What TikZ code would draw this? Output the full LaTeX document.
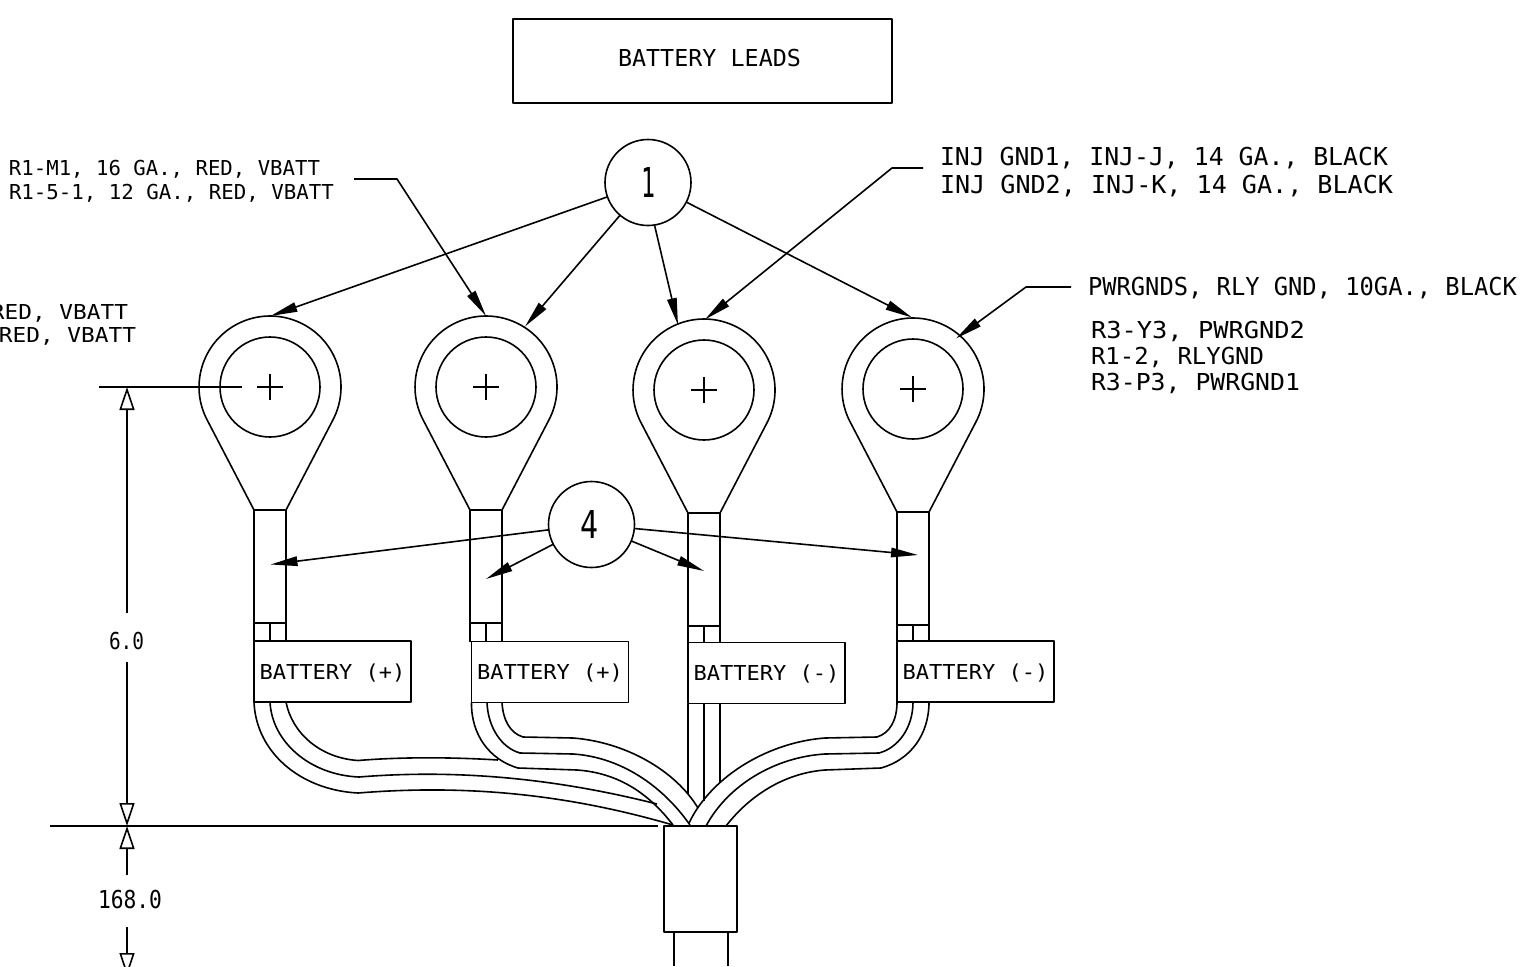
\documentclass[tikz,border=0pt]{standalone}
\usepackage{fontspec}
\usepackage{graphicx}
\usetikzlibrary{arrows.meta,calc}
\newfontfamily\cadf{DejaVu Sans Mono}
\newdimen\cadwd
\newdimen\cadht
\newcommand\cad[3]{\begingroup\sbox0{\cadf #3}\sbox2{\cadf H}\cadwd=\wd0 \cadht=\ht2
\pgfmathsetmacro\cadsx{#1/\cadwd}\pgfmathsetmacro\cadsy{#2/\cadht}%
\raisebox{0pt}[#2pt][0pt]{\scalebox{\cadsx}[\cadsy]{\usebox0}}\endgroup}
\tikzset{
  ln/.style={line width=1.6pt,line join=round},
  txt/.style={inner sep=0pt,outer sep=0pt,anchor=base west},
  txtr/.style={inner sep=0pt,outer sep=0pt,anchor=base east},
  balloon/.style={ln,draw,circle,minimum size=86pt,inner sep=0pt,outer sep=0pt},
  boxn/.style={ln,draw,rectangle,inner sep=0pt,outer sep=0pt},
  label box/.style={boxn,minimum width=157pt,minimum height=61pt},
  leader/.style={ln,-{Triangle[length=27pt,width=9.5pt]}},
  dimtip/.style={ln,-{Triangle[open,length=23pt,width=15pt,line width=1.6pt]}},
}
\begin{document}
\begin{tikzpicture}[x=1pt,y=-1pt]
\useasboundingbox (0,0) rectangle (1522,966);
% title
\node[boxn,minimum width=379pt,minimum height=84pt] (title) at (702.5,61) {};
\node[txt] (titlet) at (618,66.5) {\cad{183}{17}{BATTERY LEADS}};
% balloons
\node[balloon] (b1) at (648,182.5) {\cad{14}{30}{1}};
\node[balloon] (b4) at (591.5,524.5) {\cad{18}{28}{4}\kern4pt};
% lugs
\foreach \n/\cx/\cy in {1/270/387,2/486/387,3/704/390,4/913/389}{
  \coordinate (c\n) at (\cx,\cy);
  \node[ln,draw,circle,minimum size=100pt,inner sep=0pt,outer sep=0pt] (hole\n) at (c\n) {};
  \draw[ln] ($(c\n)+(-16,123)$) -- ($(c\n)+(-62.3,34)$)
     arc[start angle=208.6,end angle=-28.6,radius=71pt] -- ($(c\n)+(16,123)$);
  \node[boxn,minimum width=32pt,minimum height=113pt] (barrel\n) at ($(c\n)+(0,179.5)$) {};
  \draw[ln] ($(c\n)+(-13,0)$) -- ($(c\n)+(13,0)$);
  \draw[ln] ($(c\n)+(0,-13)$) -- ($(c\n)+(0,13)$);
}
% label boxes
\node[label box] (bx1) at (332.5,671.5) {\cad{146}{15}{BATTERY (+)}};
\node[label box] (bx2) at (550,672) {\cad{146}{15}{BATTERY (+)}};
\node[label box] (bx3) at (766.5,673) {\cad{146}{15}{BATTERY (-)}};
\node[label box] (bx4) at (975.5,671.5) {\cad{146}{15}{BATTERY (-)}};
% stubs between barrel and label box
\foreach \n in {1,2,3,4}{
  \draw[ln] (barrel\n.south west) -- (barrel\n.south west |- bx\n.north);
  \draw[ln] (barrel\n.south) -- (barrel\n.south |- bx\n.north);
  \draw[ln] (barrel\n.south east) -- (barrel\n.south east |- bx\n.north);
}
% sleeve
\node[boxn,minimum width=73pt,minimum height=106pt] (sl) at (700.5,879) {};
\coordinate (cabL) at (674,966);
\coordinate (cabR) at (728,966);
\draw[ln] (cabL |- sl.south) -- (cabL);
\draw[ln] (cabR |- sl.south) -- (cabR);
% wires, box 1
\draw[ln] (bx1.south west) .. controls (256,752) and (300,790) .. (358,793) .. controls (470,784) and (570,795) .. (673,825);
\draw[ln] (270,702) .. controls (272,742) and (310,775) .. (359,777) .. controls (470,768) and (570,782) .. (657,804);
\draw[ln] (286,702) .. controls (292,733) and (320,758) .. (358,760.5) .. controls (400,757) and (450,757) .. (498,760);
% wires, box 2
\draw[ln] (bx2.south west) .. controls (471,735) and (490,760) .. (518,768) -- (577,770) .. controls (620,773) and (650,795) .. (673,825);
\draw[ln] (487,702.5) .. controls (488,728) and (502,748) .. (520,753) -- (573,754) .. controls (620,757) and (662,785) .. (690,825);
\draw[ln] (502,702.5) .. controls (503,720) and (510,733) .. (523,737) -- (573,738) .. controls (625,742) and (675,770) .. (698,808);
% wires, box 3
\draw[ln] (bx3.south west) -- (688,794);
\draw[ln] (704,703.5) -- (704,801);
\draw[ln] (720,703.5) -- (720,782);
% wires, box 4
\draw[ln] (bx4.south west) .. controls (897,720) and (890,733) .. (877,737) -- (825,738) .. controls (770,742) and (712,775) .. (689,823);
\draw[ln] (913,702) .. controls (913,728) and (898,748) .. (879,753) -- (825,754) .. controls (775,757) and (728,785) .. (706,826);
\draw[ln] (929,702) .. controls (929,735) and (910,760) .. (881,768) -- (825,770) .. controls (785,773) and (750,795) .. (726,826);
% balloon leaders
\coordinate (a1) at (270.5,316);
\coordinate (a2) at (525,326.5);
\coordinate (a3s) at (654.5,225);
\coordinate (a3) at (678,325);
\coordinate (a4) at (912,317.5);
\draw[leader] (b1) -- (a1);
\draw[leader] (b1) -- (a2);
\draw[leader] (a3s) -- (a3);
\draw[leader] (b1) -- (a4);
\coordinate (f1) at (270.5,564.5);
\coordinate (f2) at (486,579);
\coordinate (f3) at (704,571);
\coordinate (f4) at (918,555);
\draw[leader] (b4) -- (f1);
\draw[leader] (b4) -- (f2);
\draw[leader] (b4) -- (f3);
\draw[leader] (b4) -- (f4);
% text labels and elbow leaders
\node[txt] (redA) at (9,175) {\cad{311}{15}{R1-M1, 16 GA., RED, VBATT}};
\node[txt] (redB) at (9,199) {\cad{325}{15}{R1-5-1, 12 GA., RED, VBATT}};
\node[txtr] (redC) at (128,319) {\cad{137}{15}{RED, VBATT}};
\node[txtr] (redD) at (136,342) {\cad{137}{15}{RED, VBATT}};
\node[txt] (injA) at (940,165.5) {\cad{448}{18}{INJ GND1, INJ-J, 14 GA., BLACK}};
\node[txt] (injB) at (940,193.5) {\cad{453}{18}{INJ GND2, INJ-K, 14 GA., BLACK}};
\node[txt] (pwr) at (1088,295.5) {\cad{429}{18}{PWRGNDS, RLY GND, 10GA., BLACK}};
\node[txt] (rA) at (1091,338) {\cad{214}{17}{R3-Y3, PWRGND2}};
\node[txt] (rB) at (1091,364) {\cad{173}{17}{R1-2, RLYGND}};
\node[txt] (rC) at (1091,390) {\cad{209}{17}{R3-P3, PWRGND1}};
\coordinate (e1s) at (354,179);
\coordinate (e1c) at (397,179);
\coordinate (e1t) at (486,316);
\draw[leader] (e1s) -- (e1c) -- (e1t);
\coordinate (e2s) at (923,168);
\coordinate (e2c) at (892,168);
\coordinate (e2t) at (705,319.5);
\draw[leader] (e2s) -- (e2c) -- (e2t);
\coordinate (e3s) at (1071,287);
\coordinate (e3c) at (1026,287);
\coordinate (e3t) at (956,338.5);
\draw[leader] (e3s) -- (e3c) -- (e3t);
% dimensions
\coordinate (extA) at (99,387);
\coordinate (extAe) at (242,387);
\draw[ln] (extA) -- (extAe);
\coordinate (extB) at (50,826);
\coordinate (extBe) at (658,826);
\draw[ln] (extB) -- (extBe);
\node[inner sep=0pt,outer sep=0pt] (d6) at (126.5,641) {\cad{35}{17}{6.0}};
\node[inner sep=0pt,outer sep=0pt] (d168) at (130,899) {\cad{64}{18}{168.0}};
\coordinate (p1) at (127,613);
\coordinate (p2) at (127,387);
\coordinate (p3) at (127,662);
\coordinate (p4) at (127,826);
\coordinate (p5) at (127,875);
\coordinate (p6) at (127,927);
\coordinate (p7) at (127,976);
\draw[dimtip] (p1) -- (p2);
\draw[dimtip] (p3) -- (p4);
\draw[dimtip] (p5) -- (p4);
\draw[dimtip] (p6) -- (p7);
\end{tikzpicture}
\end{document}
